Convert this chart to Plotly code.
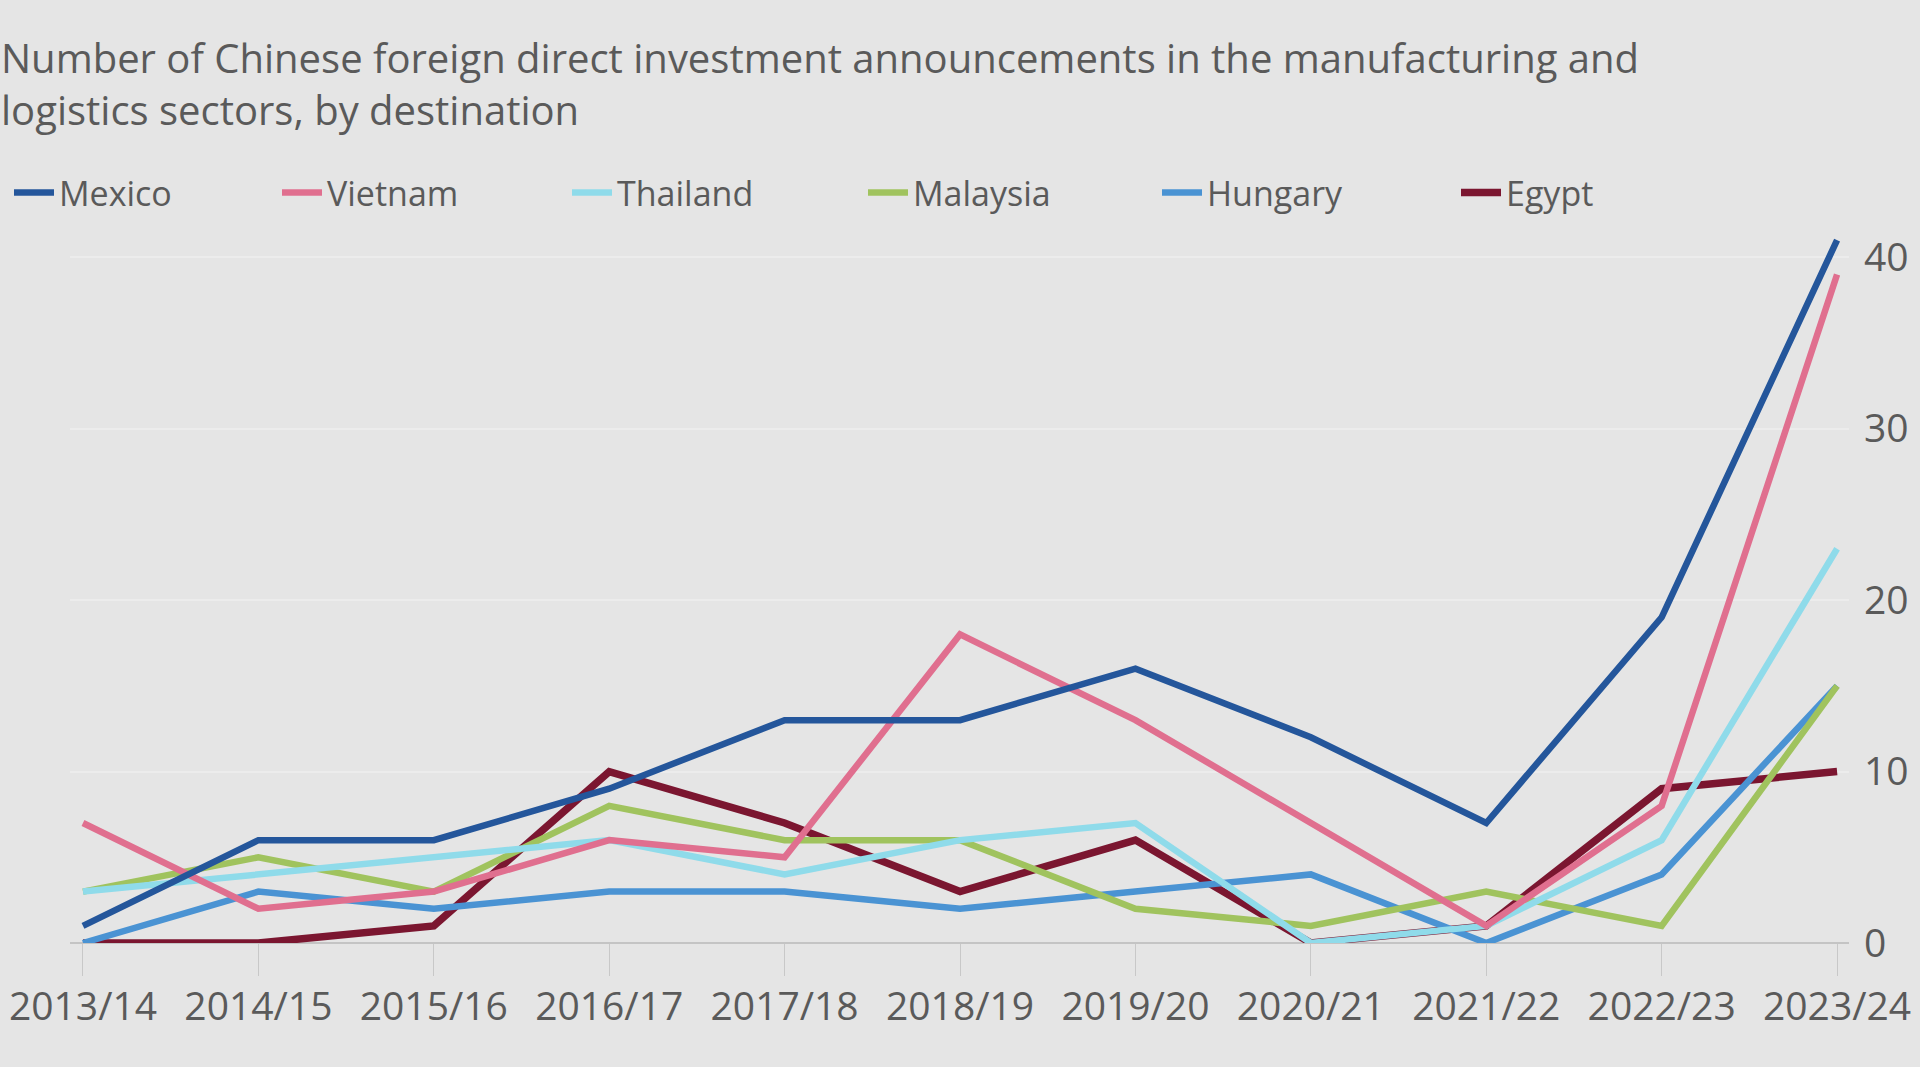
import plotly.graph_objects as go

years = ["2013/14", "2014/15", "2015/16", "2016/17", "2017/18", "2018/19",
         "2019/20", "2020/21", "2021/22", "2022/23", "2023/24"]

mexico   = [1, 6, 6, 9, 13, 13, 16, 12, 7, 19, 41]
vietnam  = [7, 2, 3, 6, 5, 18, 13, 7, 1, 8, 39]
thailand = [3, 4, 5, 6, 4, 6, 7, 0, 1, 6, 23]
malaysia = [3, 5, 3, 8, 6, 6, 2, 1, 3, 1, 15]
hungary  = [0, 3, 2, 3, 3, 2, 3, 4, 0, 4, 15]
egypt    = [0, 0, 1, 10, 7, 3, 6, 0, 1, 9, 10]

y_ticks = [0, 10, 20, 30, 40]

subtitle = ("Number of Chinese foreign direct investment announcements in the manufacturing and"
            "<br>logistics sectors, by destination")

series = [
    ("Mexico", mexico, "#24569b", 6.5),
    ("Vietnam", vietnam, "#e06f8f", 6.5),
    ("Thailand", thailand, "#8fdbea", 6.5),
    ("Malaysia", malaysia, "#a0c35e", 6.5),
    ("Hungary", hungary, "#4a93d3", 6.5),
    ("Egypt", egypt, "#7b1630", 7.5),
]
# x pixel where each legend label's text starts
legend_text_px = [64, 332, 622, 918, 1212, 1511]

BG = "#e5e5e5"
TXT = "#5a5a5a"
FONT = "'Open Sans', Lato, sans-serif"

W, H = 1920, 1067
ML, MR, MT, MB = 70, 71, 223, 124
PW = W - ML - MR
PH = H - MT - MB
AXIS0_PX = H - MB


def px_to_paper_x(px):
    return (px - ML) / PW


def px_to_paper_y(py):
    return (AXIS0_PX - py) / PH


fig = go.Figure()
legend_layouts = {}
for i, (name, vals, col, lw) in enumerate(series):
    lname = "legend" if i == 0 else f"legend{i + 1}"
    fig.add_trace(go.Scatter(
        x=years, y=vals, mode="lines", name=name,
        line=dict(color=col, width=lw),
        legend=lname,
        hoverinfo="x+y+name",
    ))
    legend_layouts[lname] = dict(
        orientation="h",
        x=px_to_paper_x(legend_text_px[i] - 55), xanchor="left",
        y=px_to_paper_y(193), yanchor="middle",
        font=dict(size=34, color=TXT, family=FONT),
        itemwidth=40,
        bgcolor="rgba(0,0,0,0)",
        borderwidth=0,
    )

# draw Mexico on top: reverse trace order
fig.data = tuple(reversed(fig.data))

fig.update_layout(
    width=W, height=H,
    margin=dict(l=ML, r=MR, t=MT, b=MB, autoexpand=False),
    paper_bgcolor=BG, plot_bgcolor=BG,
    font=dict(family=FONT, color=TXT, size=34),
    showlegend=True,
    xaxis=dict(
        type="category",
        categoryorder="array", categoryarray=years,
        range=[-0.074, 10.068],
        showgrid=False, zeroline=False, showline=False,
        ticks="outside", ticklen=32, tickwidth=1, tickcolor="#c8c8c8",
        tickfont=dict(size=39, color=TXT, family=FONT),
        ticklabelstandoff=-3,
        fixedrange=True,
    ),
    yaxis=dict(
        side="right",
        range=[0, 42],
        tickvals=y_ticks,
        showgrid=True, gridcolor="#ececec", gridwidth=2,
        zeroline=True, zerolinecolor="#c4c4c4", zerolinewidth=2,
        showline=False, ticks="",
        tickfont=dict(size=39, color=TXT, family=FONT),
        ticklabelstandoff=14,
        fixedrange=True,
    ),
    annotations=[
        dict(
            text=subtitle,
            xref="paper", yref="paper",
            x=px_to_paper_x(0), y=px_to_paper_y(83),
            xanchor="left", yanchor="middle", align="left",
            showarrow=False, borderpad=0,
            font=dict(size=40, color=TXT, family=FONT),
        )
    ],
    **legend_layouts,
)

fig.write_html(
    "out.html",
    config={"displayModeBar": False},
    post_script="document.body.style.margin='0';",
)
